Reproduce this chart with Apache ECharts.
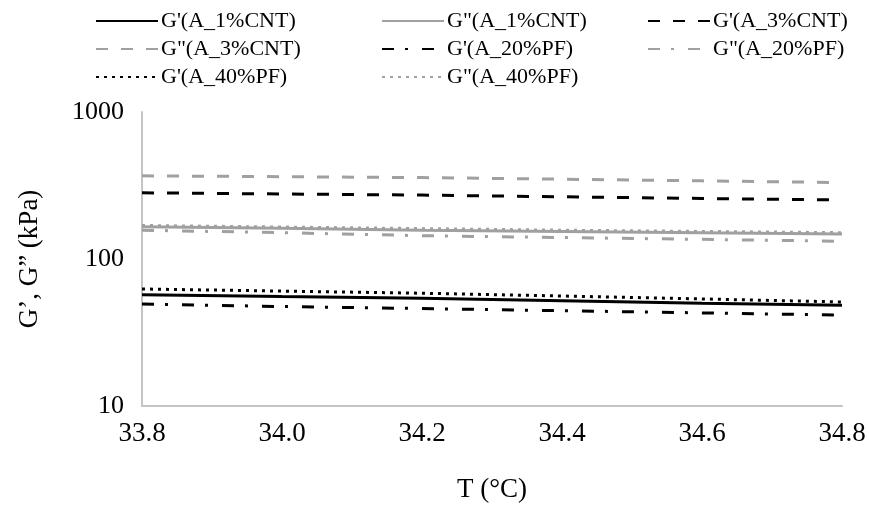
<!DOCTYPE html>
<html>
<head>
<meta charset="utf-8">
<script src="https://cdn.jsdelivr.net/npm/echarts@6/dist/echarts.min.js"></script>
<style>
  html, body { margin: 0; padding: 0; background: #fff; }
  #chart { width: 869px; height: 509px; }
</style>
</head>
<body>
<div id="chart"></div>
<script>
// Temperature sweep (°C)
const temps = [33.8, 34.0, 34.2, 34.4, 34.6, 34.8];

// Storage (G') and loss (G'') moduli, kPa
const gp_1CNT   = [57.2, 55.5, 54.0, 52.0, 50.0, 48.5];
const gpp_1CNT  = [166, 162, 157, 154, 151, 148];
const gp_3CNT   = [282, 277, 272, 265, 258, 252];
const gpp_3CNT  = [368, 363, 358, 349, 340, 331];
const gp_20PF   = [49.4, 47.5, 46.0, 44.5, 43.0, 41.5];
const gpp_20PF  = [157, 151, 144, 140, 136, 132];
const gp_40PF   = [62.5, 60.5, 58.5, 56.0, 53.5, 51.0];
const gpp_40PF  = [169, 165, 161, 157, 154, 151];

const yTicks = [10, 100, 1000];

const BLACK = '#000000';
const GREY = '#a0a0a0';
const FONT = '"Liberation Serif", "Times New Roman", serif';

function pts(vals) { return temps.map((t, i) => [t, vals[i]]); }

function line(name, vals, color, dash, width) {
  return {
    name: name,
    type: 'line',
    data: pts(vals),
    showSymbol: false,
    symbol: 'none',
    smooth: false,
    lineStyle: { color: color, width: width, type: dash },
    itemStyle: { color: color }
  };
}

const DASH = [12, 13];
const DASHDOT = [12, 11, 3, 14];
const DOT = [3, 5];

const series = [
  line("G'(A_1%CNT)",  gp_1CNT,  BLACK, 'solid', 3),
  line('G"(A_1%CNT)',  gpp_1CNT, GREY,  'solid', 3),
  line("G'(A_3%CNT)",  gp_3CNT,  BLACK, DASH, 3),
  line('G"(A_3%CNT)',  gpp_3CNT, GREY,  DASH, 3),
  line("G'(A_20%PF)",  gp_20PF,  BLACK, DASHDOT, 3),
  line('G"(A_20%PF)',  gpp_20PF, GREY,  DASHDOT, 3),
  line("G'(A_40%PF)",  gp_40PF,  BLACK, DOT, 3),
  line('G"(A_40%PF)',  gpp_40PF, GREY,  DOT, 3)
];

function legendCol(left, names) {
  return {
    orient: 'vertical',
    left: left,
    top: 5,
    itemWidth: 62,
    itemHeight: 12,
    itemGap: 6,
    itemStyle: { opacity: 0 },
    data: names,
    textStyle: { fontFamily: FONT, fontSize: 22, color: '#000', padding: [0, 0, 0, -2] }
  };
}

const chart = echarts.init(document.getElementById('chart'), null, { renderer: 'canvas' });
chart.setOption({
  animation: false,
  backgroundColor: '#ffffff',
  legend: [
    legendCol(90,  ["G'(A_1%CNT)", 'G"(A_3%CNT)', "G'(A_40%PF)"]),
    legendCol(376, ['G"(A_1%CNT)', "G'(A_20%PF)", 'G"(A_40%PF)']),
    legendCol(642, ["G'(A_3%CNT)", 'G"(A_20%PF)'])
  ],
  grid: { left: 142, right: 27, top: 112, bottom: 103, containLabel: false },
  xAxis: {
    type: 'value',
    min: 33.8,
    max: 34.8,
    interval: 0.2,
    name: 'T (°C)',
    nameLocation: 'middle',
    nameGap: 70,
    nameTextStyle: { fontFamily: FONT, fontSize: 27, color: '#000' },
    axisLine: { show: true, lineStyle: { color: '#c4c4c4', width: 2 } },
    axisTick: { show: false },
    splitLine: { show: false },
    axisLabel: {
      fontFamily: FONT, fontSize: 27, color: '#000', margin: 14,
      formatter: v => Number(v).toFixed(1)
    }
  },
  yAxis: {
    type: 'log',
    logBase: 10,
    min: yTicks[0],
    max: yTicks[yTicks.length - 1],
    name: 'G’, G” (kPa)',
    nameLocation: 'middle',
    nameGap: 99,
    nameRotate: 90,
    nameTextStyle: { fontFamily: FONT, fontSize: 27, color: '#000' },
    axisLine: { show: true, lineStyle: { color: '#c4c4c4', width: 2 } },
    axisTick: { show: false },
    splitLine: { show: false },
    axisLabel: {
      fontFamily: FONT, fontSize: 26, color: '#000', margin: 18,
      formatter: v => String(Math.round(v))
    }
  },
  series: series
});
</script>
</body>
</html>
